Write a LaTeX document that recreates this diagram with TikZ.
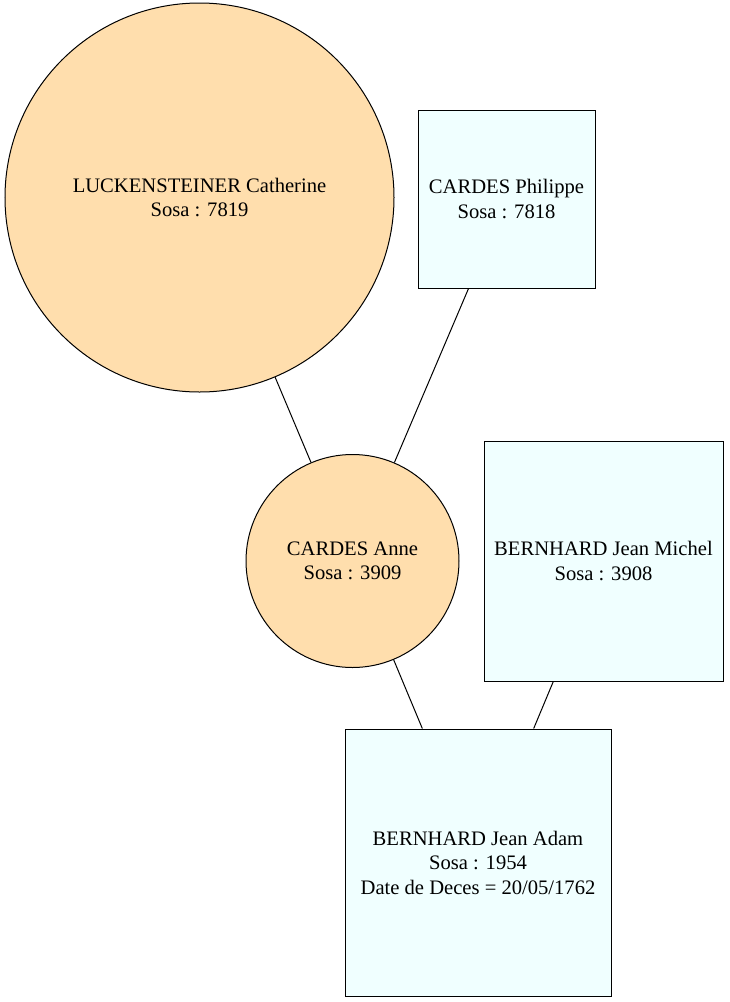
\documentclass[tikz,border=0pt]{standalone}
\usepackage{fontspec}
\setmainfont{Liberation Serif}
\definecolor{navajo}{HTML}{FFDEAD}
\definecolor{azurefill}{HTML}{F0FFFF}
\begin{document}
\begin{tikzpicture}[x=1pt,y=-1pt,
  every node/.style={align=center,font=\fontsize{20.6}{24.5}\selectfont,line width=1pt},
  fem/.style={circle,draw,fill=navajo,inner sep=0pt},
  masc/.style={rectangle,draw,fill=azurefill,inner sep=0pt},
  edge/.style={line width=1pt}]
\useasboundingbox (0,0) rectangle (729,1002);
\node[fem,minimum size=389pt] (luck) at (199.5,197.5) {LUCKENSTEINER Catherine\\Sosa : 7819};
\node[masc,minimum width=177pt,minimum height=178pt] (phil) at (506.5,199) {CARDES Philippe\\Sosa : 7818};
\node[fem,minimum size=213pt] (anne) at (352.5,561) {CARDES Anne\\Sosa : 3909};
\node[masc,minimum width=239pt,minimum height=240pt] (michel) at (603.5,561) {BERNHARD Jean Michel\\Sosa : 3908};
\node[masc,minimum width=266pt,minimum height=267pt] (adam) at (478,862.5) {BERNHARD Jean Adam\\Sosa : 1954\\Date de Deces = 20/05/1762};
\draw[edge] (luck) -- (anne);
\draw[edge] (phil) -- (anne);
\draw[edge] (anne) -- (adam);
\draw[edge] (michel) -- (adam);
\end{tikzpicture}
\end{document}
